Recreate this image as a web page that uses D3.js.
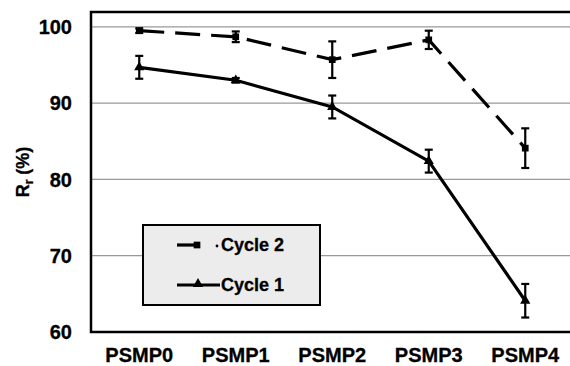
<!DOCTYPE html>
<html><head><meta charset="utf-8">
<script src="https://cdn.jsdelivr.net/npm/d3@7"></script>
<style>body{margin:0;background:#fff;}svg{display:block;font-family:"Liberation Sans",Arial,sans-serif;}text{stroke:#000;stroke-width:0.3px;}</style>
</head><body>
<script>
const categories = ["PSMP0","PSMP1","PSMP2","PSMP3","PSMP4"];
const cycle2 = [99.5, 98.7, 95.7, 98.3, 84.1];
const cycle2Err = [0.3, 0.7, 2.4, 1.2, 2.6];
const cycle1 = [94.7, 93.0, 89.5, 82.4, 64.1];
const cycle1Err = [1.5, 0.3, 1.5, 1.5, 2.2];
const yTicks = [60, 70, 80, 90, 100];

const W = 570, H = 366;
const m = {left: 91, top: 12, right: -3.5, bottom: 34};
const svg = d3.select("body").append("svg").attr("width", W).attr("height", H);
const x = d3.scaleBand().domain(categories).range([m.left, W - m.right]);
const y = d3.scaleLinear().domain([60, 101.95]).range([H - m.bottom, m.top]);

// gridlines
svg.append("g").selectAll("line").data(yTicks.slice(1)).join("line")
  .attr("x1", m.left).attr("x2", W).attr("y1", d => y(d)).attr("y2", d => y(d))
  .attr("stroke", "#999").attr("stroke-width", 1.2);

// frame
svg.append("rect").attr("x", m.left).attr("y", m.top)
  .attr("width", W - m.right - m.left).attr("height", H - m.bottom - m.top)
  .attr("fill", "none").attr("stroke", "#000").attr("stroke-width", 2.5);

// y tick labels
svg.append("g").selectAll("text").data(yTicks).join("text")
  .attr("x", 72).attr("y", d => y(d)).attr("dy", "0.36em").attr("text-anchor", "end")
  .attr("font-size", 20).attr("font-weight", "bold").text(d => d);

// x labels
svg.append("g").selectAll("text").data(categories).join("text")
  .attr("x", d => x(d) + x.bandwidth()/2).attr("y", 355).attr("dy", "0.36em").attr("text-anchor", "middle")
  .attr("font-size", 20).attr("font-weight", "bold").text(d => d);

// y title
const yt = svg.append("text").attr("transform", "translate(29,172) rotate(-90)")
  .attr("text-anchor", "middle").attr("font-size", 18).attr("font-weight", "bold");
yt.append("tspan").text("R");
yt.append("tspan").attr("font-size", 12).attr("dy", 4).text("r");
yt.append("tspan").attr("dy", -4).text(" (%)");

const cx = d => x(d) + x.bandwidth()/2;
function series(vals, errs, dash, marker) {
  const pts = categories.map((c, i) => [cx(c), y(vals[i])]);
  svg.append("path").attr("d", d3.line()(pts)).attr("fill", "none").attr("stroke", "#000")
    .attr("stroke-width", 3.2).attr("stroke-dasharray", dash);
  const g = svg.append("g").attr("stroke", "#000").attr("stroke-width", 2.2);
  categories.forEach((c, i) => {
    const xx = cx(c), y1 = y(vals[i] + errs[i]), y2 = y(vals[i] - errs[i]);
    g.append("line").attr("x1", xx).attr("x2", xx).attr("y1", y1).attr("y2", y2);
    g.append("line").attr("x1", xx-4).attr("x2", xx+4).attr("y1", y1).attr("y2", y1);
    g.append("line").attr("x1", xx-4).attr("x2", xx+4).attr("y1", y2).attr("y2", y2);
  });
  svg.append("g").selectAll("path").data(pts).join("path")
    .attr("transform", d => `translate(${d[0]},${d[1]})`)
    .attr("d", d3.symbol().type(marker).size(45))
    .attr("fill", "#000");
}
series(cycle2, cycle2Err, "25,11", d3.symbolSquare);
series(cycle1, cycle1Err, null, d3.symbolTriangle);

// legend
const lg = svg.append("g");
lg.append("rect").attr("x", 143).attr("y", 225).attr("width", 177).attr("height", 80)
  .attr("fill", "#ececec").attr("stroke", "#000").attr("stroke-width", 2);
lg.append("line").attr("x1", 177).attr("x2", 197).attr("y1", 245).attr("y2", 245).attr("stroke", "#000").attr("stroke-width", 3.2);
lg.append("path").attr("transform", "translate(197,245)").attr("d", d3.symbol().type(d3.symbolSquare).size(45)).attr("fill", "#000");
lg.append("circle").attr("cx", 217).attr("cy", 246).attr("r", 1.4).attr("fill", "#000");
lg.append("text").attr("x", 221).attr("y", 245).attr("dy", "0.36em").attr("font-size", 18).attr("font-weight", "bold").text("Cycle 2");
lg.append("line").attr("x1", 177).attr("x2", 220).attr("y1", 285).attr("y2", 285).attr("stroke", "#000").attr("stroke-width", 3.2);
lg.append("path").attr("transform", "translate(198,284)").attr("d", d3.symbol().type(d3.symbolTriangle).size(45)).attr("fill", "#000");
lg.append("text").attr("x", 221).attr("y", 285).attr("dy", "0.36em").attr("font-size", 18).attr("font-weight", "bold").text("Cycle 1");
</script>
</body></html>
